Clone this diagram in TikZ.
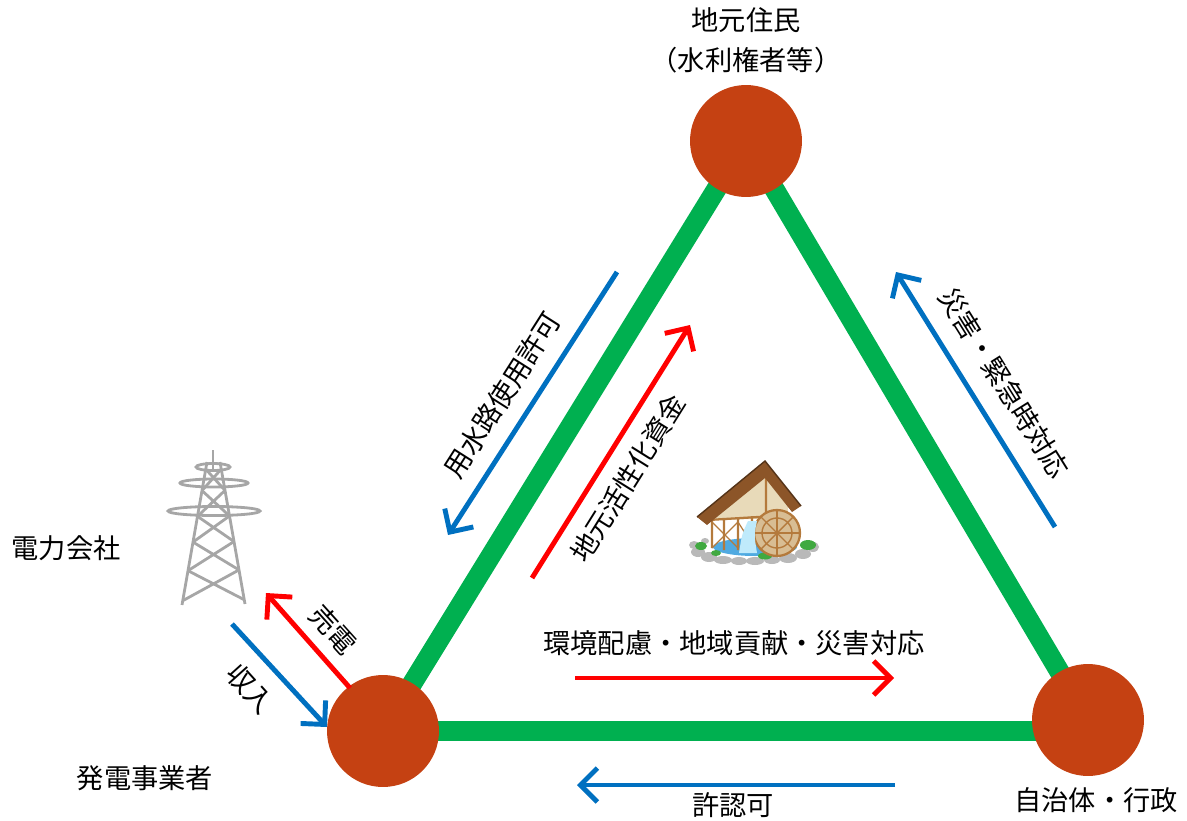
\documentclass[tikz,border=0pt]{standalone}
\usepackage{fontspec}
\setmainfont{Noto Sans CJK JP}
\usetikzlibrary{arrows.meta,calc,backgrounds}

\definecolor{linkgreen}{RGB}{0,176,80}
\definecolor{partybrown}{RGB}{197,65,18}
\definecolor{flowblue}{RGB}{0,112,192}
\definecolor{flowred}{RGB}{255,0,0}
\definecolor{roofbrown}{RGB}{140,85,40}
\definecolor{woodbrown}{RGB}{180,122,60}
\definecolor{wallbeige}{RGB}{232,218,185}
\definecolor{pondblue}{RGB}{80,170,225}

\tikzset{
  party/.style={circle, fill=partybrown, minimum size=2.24cm, inner sep=0pt},
  link/.style={linkgreen, line width=11.4pt},
  flow/.style={line width=2.8pt, -{Straight Barb[length=3.4mm,width=6.8mm]}},
  pay/.style={flow, flowred},
  grant/.style={flow, flowblue},
  txt/.style={font=\fontsize{15.5}{18}\selectfont, inner sep=0pt},
  steel/.style={gray!70, line width=1.6pt},
}

\begin{document}
\begin{tikzpicture}[x=0.02cm, y=-0.02cm]
    \useasboundingbox (0,0) rectangle (1187,821);

    % the three parties
    \node (resident) [party] at (746,141) {};
    \node (producer) [party] at (383,731) {};
    \node (city) [party] at (1088,720) {};

    % triangle
    \begin{scope}[on background layer]
    \draw [link] (resident.center) -- (producer.center);
    \draw [link] (resident.center) -- (city.center);
    \draw [link] (producer.center) -- (producer.center -| city.center);
    \end{scope}

    % names
    \node (residentname) [txt] at (746,20) {地元住民};
    \node (residentnote) [txt] at (746,60) {（水利権者等）};
    \node (producername) [txt] at (145,778) {発電事業者};
    \node (cityname) [txt] at (1096,800) {自治体・行政};
    \node (utilname) [txt] at (66,548) {電力会社};

    % flows along the left side
    \coordinate (waterA) at (617,272);
    \coordinate (waterB) at (448,535);
    \draw [grant] (waterA) -- (waterB);
    \node (waterlbl) [txt, rotate=57.5] at (502,395) {用水路使用許可};

    \coordinate (fundA) at (532,578);
    \coordinate (fundB) at (690,325);
    \draw [pay] (fundA) -- (fundB);
    \node (fundlbl) [txt, rotate=58] at (628,478) {地元活性化資金};

    % flow along the right side
    \coordinate (disA) at (1055,527);
    \coordinate (disB) at (896,272);
    \draw [grant] (disA) -- (disB);
    \node (dislbl) [txt, rotate=-58] at (1004,383) {災害・緊急時対応};

    % flows along the bottom
    \coordinate (envA) at (575,678);
    \coordinate (envB) at (894,678);
    \draw [pay] (envA) -- (envB);
    \node (envlbl) [txt] at (734,643) {環境配慮・地域貢献・災害対応};

    \coordinate (permA) at (895,785);
    \coordinate (permB) at (577,785);
    \draw [grant] (permA) -- (permB);
    \node (permlbl) [txt] at (733,805) {許認可};

    % power company
    \coordinate (sellA) at (350,688);
    \coordinate (sellB) at (266,593);
    \draw [pay] (sellA) -- (sellB);
    \node (selllbl) [txt, rotate=-48] at (333,630) {売電};

    \coordinate (incA) at (232,624);
    \coordinate (incB) at (327,727);
    \draw [grant] (incA) -- (incB);
    \node (inclbl) [txt, rotate=-48] at (250,689) {収入};

    % pylon
    \coordinate (tl) at (207,462);
    \coordinate (bl) at (182,605);
    \coordinate (tr) at (220,462);
    \coordinate (br) at (245,604);
    \draw [steel] (213,450) -- (213,470);
    \draw [steel] (tl) -- (bl) (tr) -- (br);
    \draw [steel] (213,467) ellipse (17 and 3.5);
    \draw [steel] (214,483) ellipse (34 and 4);
    \draw [steel] (214,511) ellipse (46 and 4.5);
    \foreach \a/\b in {0.05/0.2, 0.2/0.38, 0.38/0.56, 0.56/0.76, 0.76/0.97}
        \draw [steel] ($(tl)!\a!(bl)$) -- ($(tr)!\b!(br)$)
                      ($(tr)!\a!(br)$) -- ($(tl)!\b!(bl)$);

    % water mill
    \fill [pondblue] (755,547) ellipse (42 and 9);
    \foreach \x/\y/\rx/\ry in {694/545/5/4, 698/552/7/5, 709/557/8/5, 723/560/9/4,
                               739/561/8/4, 755/561/9/4, 772/560/8/4, 788/558/9/5,
                               803/554/8/5, 813/547/6/5, 705/541/4/3}
        \fill [gray!55] (\x,\y) ellipse ({\rx} and {\ry});
    \fill [green!55!black!75] (701,546) ellipse (6 and 4);
    \fill [green!55!black!75] (716,553) ellipse (5 and 3);
    \fill [green!55!black!75] (765,556) ellipse (7 and 3.5);
    \fill [green!55!black!75] (808,545) ellipse (8 and 5);
    \fill [wallbeige] (716,514) -- (766,474) -- (788,505) -- (788,518) -- (716,520) -- cycle;
    \draw [woodbrown, line width=1.3pt] (712,518) -- (712,548) (724,518) -- (724,550)
          (738,518) -- (738,550) (752,516) -- (752,546) (708,520) -- (792,515)
          (766,476) -- (766,516);
    \draw [woodbrown, line width=0.7pt] (712,522) -- (738,548) (738,522) -- (712,548)
          (738,522) -- (752,544);
    \draw [woodbrown, line width=1.3pt, fill=wallbeige!70!woodbrown] (777,533) circle (23);
    \draw [woodbrown, line width=0.8pt] (777,533) circle (15);
    \foreach \t in {0,45,...,315}
        \draw [woodbrown, line width=0.8pt] (777,533) -- ++(\t:23);
    \fill [cyan!25] (748,521) .. controls (742,534) .. (739,553) -- (757,553)
          .. controls (754,535) .. (757,521) -- cycle;
    \fill [roofbrown] (697,517) -- (765,461) -- (801,506) -- (792,512) -- (765,478)
          -- (707,525) -- cycle;
    \draw [roofbrown!60!black, line width=0.8pt] (697,517) -- (765,461) -- (801,506);
\end{tikzpicture}
\end{document}
